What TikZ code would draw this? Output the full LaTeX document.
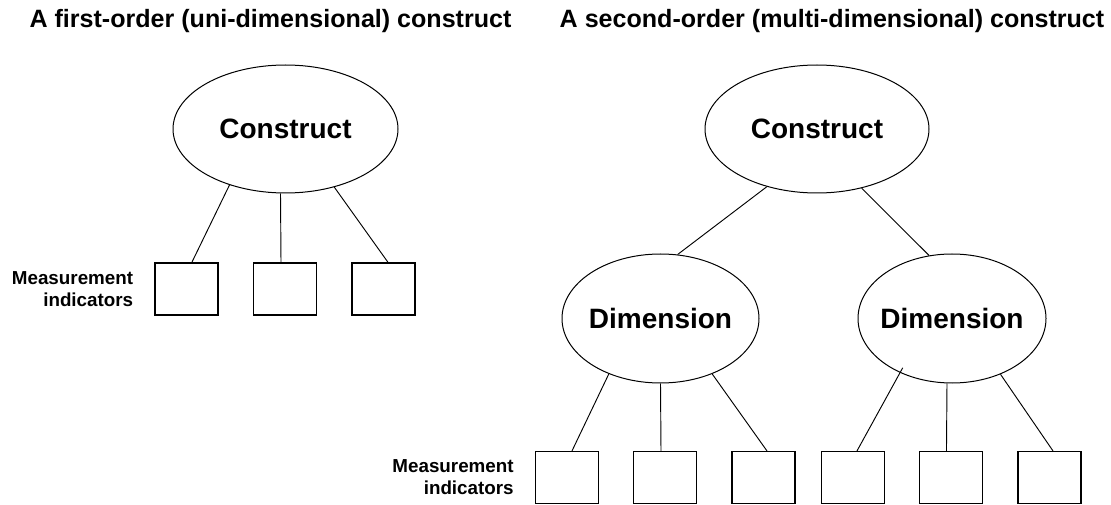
\documentclass[tikz,border=0pt]{standalone}
\usepackage{fontspec}
\setmainfont{Liberation Sans}
\usetikzlibrary{shapes.geometric,positioning,calc}

\begin{document}
\begin{tikzpicture}[x=7.5pt,y=7.5pt,
    construct/.style={ellipse, draw, line width=0.75pt, inner sep=-12pt,
        font=\fontsize{21}{25}\selectfont\bfseries},
    indicator/.style={rectangle, draw, line width=0.9pt,
        minimum width=47.25pt, minimum height=39pt, inner sep=0pt},
    heading/.style={anchor=base, inner sep=0pt,
        font=\fontsize{18.8}{22}\selectfont\bfseries},
    measure/.style={align=right, inner sep=0pt,
        font=\fontsize{14.1}{16.5}\selectfont\bfseries},
    link/.style={line width=0.7pt}]
    \useasboundingbox (0,0) rectangle (111.1,50.4);

    % titles
    \node[heading] (t1) at (27.05,47.6) {A first-order (uni-dimensional) construct};
    \node[heading] (t2) at (83.2,47.6) {A second-order (multi-dimensional) construct};

    % first-order construct
    \node[construct, minimum width=168.75pt, minimum height=96pt] (c1) at (28.55,37.5) {Construct};
    \foreach \i/\x in {1/18.65, 2/28.5, 3/38.35}
        \node[indicator] (i\i) at (\x,21.5) {};
    \node[measure, left=15.75pt of i1] (mi1) {Measurement\\indicators};
    \draw[link] (c1.225) -- ([xshift=4pt]i1.north);
    \draw[link] ([xshift=-3.75pt]c1.south) -- ([xshift=-3pt]i2.north);
    \draw[link] (c1.310) -- ([xshift=3.4pt]i3.north);

    % second-order construct
    \node[construct, minimum width=168pt, minimum height=96pt] (c2) at (81.7,37.5) {Construct};
    \node[construct, minimum width=147.75pt, minimum height=96.75pt] (d1) at (66.05,18.55) {Dimension};
    \node[construct, minimum width=141pt, minimum height=96.75pt] (d2) at (95.2,18.55) {Dimension};
    \draw[link] (c2.229) -- (d1.75);
    \draw[link] (c2.307) -- (d2.110);

    \foreach \j/\x in {1/56.7, 2/66.5, 3/76.35, 4/85.3, 5/95.1, 6/104.95}
        \node[indicator] (j\j) at (\x,2.65) {};
    \node[measure, left=15.75pt of j1] (mi2) {Measurement\\indicators};
    \draw[link] (d1.227) -- ([xshift=3.75pt]j1.north);
    \draw[link] (d1.south) -- ([xshift=-3pt]j2.north);
    \draw[link] (d1.313) -- ([xshift=2.6pt]j3.north);
    \draw[link] ($(d2.center)!0.92!(d2.225)$) -- ([xshift=3pt]j4.north);
    \draw[link] ([xshift=-3.75pt]d2.south) -- ([xshift=-3.4pt]j5.north);
    \draw[link] (d2.311) -- ([xshift=2.6pt]j6.north);

\end{tikzpicture}
\end{document}
